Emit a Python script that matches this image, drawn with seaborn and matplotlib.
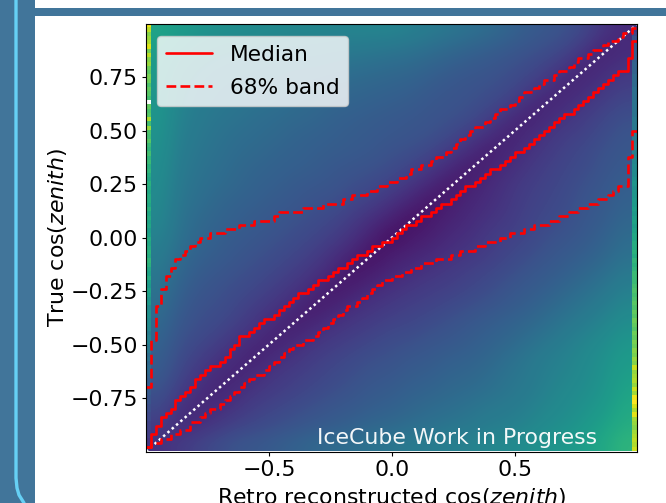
#!/usr/bin/env python3
import numpy as np
import matplotlib
matplotlib.use("Agg")
import matplotlib.pyplot as plt
from matplotlib.lines import Line2D
from matplotlib.patches import Rectangle
import seaborn as sns

# colour level (percent of the colour scale), rows run top to bottom
density = [
    [58,55,52,50,49,48,47,46,46,45,45,45,45,43,41,39,37,35,32,29,27,25,21,15,12],
    [56,51,48,46,45,44,43,42,42,41,41,40,39,38,36,34,32,30,28,26,24,21,16,10,12],
    [54,48,45,43,42,41,40,39,39,38,37,36,35,34,32,30,28,27,25,23,20,16,10,12,15],
    [53,46,43,41,40,39,38,37,36,35,34,33,32,31,29,27,26,25,23,20,16,10,12,15,18],
    [52,45,42,40,39,38,37,35,34,33,32,31,30,29,27,26,25,23,20,15,10,12,15,18,21],
    [52,44,41,39,38,36,35,34,33,31,30,29,28,27,26,25,23,19,14,9,12,15,18,21,24],
    [51,43,40,38,36,35,34,32,31,30,29,28,27,26,25,22,18,14,9,12,15,18,20,23,26],
    [50,42,39,37,35,34,32,31,30,29,28,27,25,24,21,17,13,8,11,14,17,20,22,25,27],
    [49,41,38,36,34,32,31,30,29,27,26,25,23,20,16,12,7,10,13,16,19,21,23,26,28],
    [48,40,37,35,33,31,30,28,27,26,24,22,19,15,11,6,9,12,15,18,20,22,25,27,30],
    [47,39,36,33,31,30,28,27,25,24,21,18,14,10,5,8,11,13,16,19,21,23,26,28,31],
    [46,38,34,32,30,28,27,25,23,21,17,13,9,4,7,10,12,15,17,20,22,24,27,29,33],
    [44,37,33,30,28,27,25,23,21,18,14,9,3,7,9,12,14,17,19,21,24,26,28,31,35],
    [42,35,31,29,27,25,23,21,18,14,10,4,8,10,12,14,16,18,21,23,26,28,30,33,37],
    [40,33,29,27,25,23,21,18,15,11,5,8,11,13,15,17,19,21,23,26,28,30,33,36,40],
    [38,31,27,25,23,21,18,15,12,6,9,12,14,16,18,19,21,23,26,28,30,33,36,39,43],
    [36,29,25,24,21,18,15,12,7,10,13,15,17,19,20,22,24,26,28,30,33,36,39,42,46],
    [34,27,24,22,19,15,12,8,11,14,16,18,20,21,23,25,27,29,31,33,36,39,42,45,49],
    [32,25,22,19,15,12,9,12,15,17,19,21,23,24,26,27,29,31,33,36,39,42,45,48,52],
    [30,23,19,15,12,9,13,15,18,20,22,24,25,27,28,30,31,33,36,39,42,44,47,50,54],
    [28,21,16,12,10,13,16,18,20,22,24,26,27,29,30,32,33,35,38,40,43,45,48,51,56],
    [25,18,13,10,13,16,18,20,22,24,26,28,29,31,32,34,35,37,39,41,44,47,49,52,58],
    [22,14,11,13,16,19,21,23,25,27,28,30,31,33,35,36,38,40,41,43,46,48,51,54,60],
    [18,12,14,17,20,22,24,26,28,29,31,33,34,36,37,39,40,42,43,45,48,50,53,57,62],
    [14,17,20,23,26,27,29,31,33,35,36,38,39,41,42,43,44,46,47,49,51,53,56,60,65],
]
# first and last reco bins, top to bottom (None = empty bin)
left_column = [
    97,90,82,85,88,95,80,90,82,85,78,75,80,78,72,76,74,70,None,76,
    72,74,88,70,85,72,70,74,68,66,70,66,68,64,66,62,60,64,62,60,
    62,62,60,64,60,62,58,60,56,58,62,60,62,64,62,66,64,60,58,62,
    56,54,58,56,52,54,48,50,50,48,48,46,42,44,44,40,40,36,38,34,
    36,34,32,30,30,28,28,26,26,24,24,22,22,20,20,18,18,16,16,14,
]
right_column = [
    14,18,22,26,28,28,30,30,30,32,32,32,34,34,34,36,36,36,38,38,
    38,38,40,40,40,40,42,42,44,44,44,46,46,48,48,48,50,52,50,52,
    52,54,54,56,54,56,58,56,58,60,60,62,62,64,62,66,64,66,68,68,
    68,70,72,70,72,74,72,76,74,78,76,74,78,76,80,78,82,80,84,82,
    92,84,86,88,84,92,86,98,100,94,88,96,86,84,82,86,88,90,88,92,
]
# per reco bin, starting at cos(zenith) = -1
median = [
    -.98,-.92,-.88,-.84,-.82,-.80,-.76,-.74,-.72,-.70,-.66,-.64,-.62,-.60,-.60,-.58,-.56,-.52,-.50,-.46,
    -.46,-.44,-.42,-.40,-.38,-.38,-.36,-.34,-.32,-.30,-.28,-.26,-.26,-.24,-.22,-.20,-.20,-.18,-.16,-.14,
    -.14,-.12,-.10,-.08,-.08,-.06,-.04,-.04,-.02,-.02,0,.02,.04,.06,.06,.08,.10,.10,.12,.14,
    .16,.16,.18,.20,.22,.24,.24,.26,.28,.30,.32,.32,.34,.36,.38,.40,.40,.42,.44,.46,
    .48,.50,.52,.54,.56,.58,.58,.60,.62,.64,.66,.68,.70,.72,.74,.76,.78,.78,.84,.92,
]
band_upper = [
    -.70,-.48,-.32,-.24,-.18,-.14,-.10,-.08,-.06,-.04,-.02,0,0,.02,.02,.02,.04,.04,.04,.06,
    .06,.06,.08,.08,.08,.08,.10,.12,.12,.12,.12,.12,.14,.14,.14,.14,.16,.16,.16,.16,
    .18,.18,.20,.20,.20,.22,.22,.24,.24,.26,.26,.28,.28,.30,.32,.32,.34,.34,.36,.38,
    .38,.40,.42,.44,.46,.48,.50,.52,.52,.54,.56,.58,.60,.60,.62,.64,.66,.68,.68,.70,
    .72,.74,.74,.76,.78,.78,.80,.82,.84,.84,.86,.88,.88,.90,.92,.92,.94,.96,.96,.98,
]
band_lower = [
    -.98,-.96,-.96,-.94,-.94,-.92,-.92,-.90,-.90,-.86,-.86,-.84,-.82,-.80,-.80,-.78,-.76,-.74,-.72,-.70,
    -.68,-.66,-.64,-.64,-.62,-.60,-.58,-.56,-.54,-.52,-.50,-.50,-.48,-.48,-.46,-.44,-.42,-.40,-.38,-.36,
    -.34,-.32,-.32,-.30,-.28,-.26,-.24,-.22,-.20,-.20,-.18,-.18,-.16,-.16,-.14,-.14,-.12,-.12,-.12,-.10,
    -.10,-.10,-.08,-.08,-.06,-.06,-.06,-.04,-.04,-.02,-.02,-.02,0,0,.02,.02,.02,.04,.04,.06,
    .06,.06,.08,.08,.10,.10,.12,.12,.14,.14,.16,.16,.18,.18,.20,.22,.24,.24,.38,.50,
]
bin_edges = [round(-1 + 0.02 * i, 2) for i in range(100)]
x_ticks = [-0.5, 0.0, 0.5]
y_ticks = [-0.75, -0.5, -0.25, 0.0, 0.25, 0.5, 0.75]

W, H = 666, 503
BLUE = "#41759a"
FS = 15.8


def main():
    sns.set_style("white")
    plt.rcParams["font.family"] = ["DejaVu Sans"]
    plt.rcParams["font.size"] = FS
    plt.rcParams["text.color"] = "black"
    plt.rcParams["axes.labelcolor"] = "black"
    plt.rcParams["xtick.color"] = "black"
    plt.rcParams["ytick.color"] = "black"
    fig = plt.figure(figsize=(W / 100, H / 100), dpi=100, facecolor="white")

    # slide behind the figure
    fig.patches.append(Rectangle((0, 0), 35 / W, 1, transform=fig.transFigure, color=BLUE, lw=0))
    fig.patches.append(Rectangle((35 / W, 1 - 16 / H), 1, 8 / H, transform=fig.transFigure, color=BLUE, lw=0))
    fig.add_artist(Line2D([16 / W, 16 / W, 17 / W, 19 / W, 24 / W],
                          [1, 1 - 478 / H, 1 - 488 / H, 1 - 495 / H, 0],
                          color="#66d0f5", lw=2.4))

    ax = fig.add_axes([146 / W, 1 - 451.5 / H, 491.4 / W, 427.5 / H])
    ax.set_facecolor("white")
    cmap = sns.color_palette("viridis", as_cmap=True)
    norm = dict(cmap=cmap, vmin=0, vmax=100, aspect="auto")
    ax.imshow(np.array(density, dtype=float), extent=(-0.98, 0.98, -1, 1),
              interpolation="bicubic", **norm)
    for col, ext in ((left_column, (-1, -0.98, -1, 1)), (right_column, (0.98, 1, -1, 1))):
        strip = np.array([[np.nan if v is None else v] for v in col], dtype=float)
        ax.imshow(strip, extent=ext, interpolation="nearest", **norm)

    sns.lineplot(x=[-1, 1], y=[-1, 1], color="white", linestyle=(0, (1, 1.28)), linewidth=1.8, ax=ax,
                 estimator=None, errorbar=None)
    sns.lineplot(x=bin_edges + [1.0], y=median + [median[-1]], color="red", linewidth=1.9, ax=ax,
                 drawstyle="steps-post", estimator=None, errorbar=None, label="Median")
    sns.lineplot(x=bin_edges + [1.0], y=band_upper + [band_upper[-1]], color="red", linewidth=1.9,
                 linestyle="--", ax=ax, drawstyle="steps-post", estimator=None, errorbar=None,
                 label="68% band")
    sns.lineplot(x=bin_edges + [1.0], y=band_lower + [band_lower[-1]], color="red", linewidth=1.9,
                 linestyle="--", ax=ax, drawstyle="steps-post", estimator=None, errorbar=None)

    ax.set_xlim(-1, 1)
    ax.set_ylim(-1, 1)
    ax.set_xticks(x_ticks)
    ax.set_yticks(y_ticks)
    ax.tick_params(length=3, width=0.8, pad=3, color="black", left=True, bottom=True, labelsize=FS)
    for s in ax.spines.values():
        s.set_visible(True)
        s.set_color("black")
        s.set_linewidth(0.8)
    ax.set_xlabel(r"Retro reconstructed $\cos(zenith)$", fontsize=FS, labelpad=4.5)
    ax.set_ylabel(r"True $\cos(zenith)$", fontsize=FS, labelpad=1)
    ax.text(0.836, -0.985, "IceCube Work in Progress", color="white", fontsize=FS,
            ha="right", va="bottom", alpha=0.95)
    ax.legend(loc="upper left", fontsize=15.6, frameon=True, framealpha=0.8, fancybox=True,
              handlelength=2.15, labelspacing=0.6, bbox_to_anchor=(0.0224, 0.972), borderaxespad=0)

    fig.savefig("out.png", dpi=100)


if __name__ == "__main__":
    main()
